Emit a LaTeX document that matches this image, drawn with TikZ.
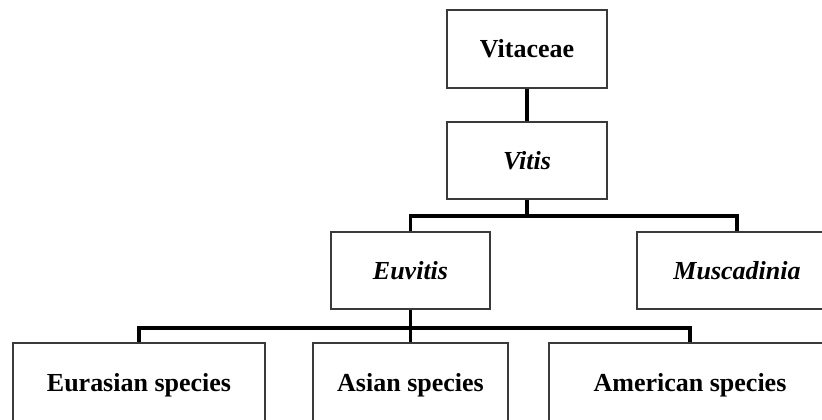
\documentclass[tikz,border=0pt]{standalone}
\usepackage{fontspec}
\setmainfont{Liberation Serif}
\usepackage{tikz}
\usetikzlibrary{positioning, calc}
\definecolor{boxline}{HTML}{3A3A3A}

\begin{document}
\begin{tikzpicture}[
    x=0.75pt, y=-0.75pt,
    taxon/.style 2 args={rectangle, draw=boxline, line width=1.1pt, fill=white,
                 minimum width=#1*0.75pt, minimum height=#2*0.75pt, inner sep=0pt,
                 align=center, font=\fontsize{19.5}{22}\selectfont\bfseries},
    link/.style={line width=2.6pt, color=black, line join=miter}
]
\useasboundingbox (0,0) rectangle (822,419);
\clip (0,0) rectangle (822,419);

\node[taxon={160}{78}]  (vitaceae)   at (527,49)    {Vitaceae};
\node[taxon={160}{77}]  (vitis)      at (527,160.5) {\itshape Vitis};
\node[taxon={159}{77}]  (euvitis)    at (410.5,270.5) {\itshape Euvitis};
\node[taxon={200}{77}]  (muscadinia) at (737,270.5) {\itshape Muscadinia};
\node[taxon={252}{84}]  (eurasian)   at (139,385)   {Eurasian species};
\node[taxon={195}{84}]  (asian)      at (410.5,385) {Asian species};
\node[taxon={282}{84}]  (american)   at (690,385)   {American species};

\coordinate (topbus) at (527,216);
\coordinate (lowbus) at (410.5,328);

\draw[link] (vitaceae) -- (vitis);
\draw[link] (vitis) -- (topbus);
\draw[link] (euvitis.north) |- (topbus) -| (muscadinia.north);
\draw[link] (euvitis) -- (asian);
\draw[link] (eurasian.north) |- (lowbus) -| (american.north);
\end{tikzpicture}
\end{document}
